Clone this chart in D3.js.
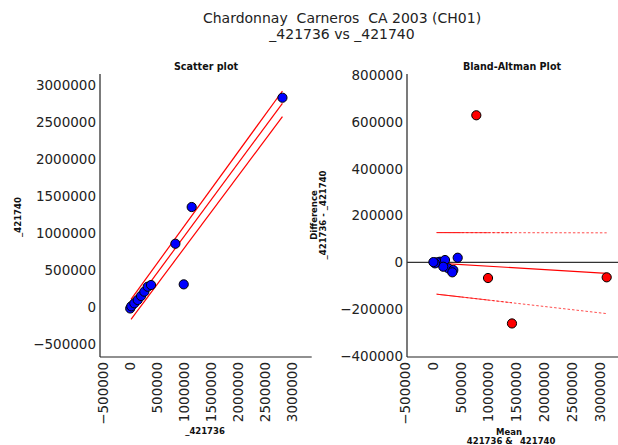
<!DOCTYPE html>
<html><head><meta charset="utf-8">
<script src="https://cdn.jsdelivr.net/npm/d3@7"></script>
<style>
body{margin:0;background:#fff;}
svg{display:block;font-family:"DejaVu Sans",sans-serif;}
text{white-space:pre;}
</style></head>
<body>
<script>
// ---- data ----
const titleLines = ["Chardonnay  Carneros  CA 2003 (CH01)", "_421736 vs _421740"];
const xTicks = [-500000, 0, 500000, 1000000, 1500000, 2000000, 2500000, 3000000];
const scatterYTicks = [-500000, 0, 500000, 1000000, 1500000, 2000000, 2500000, 3000000];
const baYTicks = [-400000, -200000, 0, 200000, 400000, 600000, 800000];

const scatterX = [0, 20000, 76000, 139000, 201000, 262000, 325000, 387000, 839000, 994000, 1142000, 2828000];
const scatterY = [-20000, 10000, 50000, 95000, 149000, 207000, 274000, 297000, 855000, 306000, 1351000, 2828000];

// regression line and its two bounds: [x0, y0, x1, y1]
const fitLine   = [15000, -17600, 2828000, 2752700];
const upperLine = [15000, 104000, 2828000, 2919000];
const lowerLine = [15000, -166000, 2828000, 2571600];

const baBlueMean = [446000, 128000, 69000, 218000, 277000, 367000, 349000, 187000, 38000, 10000];
const baBlueDiff = [19700, 2600, 0, 9800, -25600, -32900, -42700, -18800, -4300, 1000];
const baRedMean = [780000, 990000, 1420000, 3120000];
const baRedDiff = [628000, -67000, -261000, -64000];

const baTrend = [69000, -3000, 3120000, -47000];
const baUpper = [69000, 127000, 3120000, 126000];
const baLower = [69000, -136000, 3120000, -219000];
const baDashEnds = [500000, 1000000, 1420000, 3120000];

// ---- drawing ----
const W = 618, H = 445;
const svg = d3.select("body").append("svg").attr("width", W).attr("height", H);

svg.append("text").attr("x", 342).attr("y", 23).attr("text-anchor", "middle")
  .attr("font-size", 14).attr("fill", "#222").text(titleLines[0]);
svg.append("text").attr("x", 342).attr("y", 38.5).attr("text-anchor", "middle")
  .attr("font-size", 14).attr("fill", "#222").text(titleLines[1]);

const fmt = d => (d < 0 ? "\u2212" + Math.abs(d) : String(d));
const tickFont = 13.5;

function panel(opts) {
  const g = svg.append("g");
  const x = opts.x, y = opts.y;
  const [bx0, bx1] = opts.bx, [by0, by1] = opts.by;
  g.append("line").attr("x1", bx0).attr("x2", bx0).attr("y1", by0).attr("y2", by1)
    .attr("stroke", "#222").attr("stroke-width", 1.2);
  g.append("line").attr("x1", bx0).attr("x2", bx1).attr("y1", by1).attr("y2", by1)
    .attr("stroke", "#222").attr("stroke-width", 1.2);
  g.selectAll(".yt").data(opts.yTicks).join("text")
    .attr("x", bx0 - 4).attr("y", d => y(d)).attr("dy", "0.36em")
    .attr("text-anchor", "end").attr("font-size", tickFont).attr("fill", "#222").text(fmt);
  g.selectAll(".xt").data(xTicks).join("text")
    .attr("transform", d => `translate(${x(d)},${by1 + 5}) rotate(-90)`)
    .attr("dy", "0.36em").attr("text-anchor", "end")
    .attr("font-size", tickFont).attr("fill", "#222").text(fmt);
  g.append("text").attr("x", opts.titleX).attr("y", 70).attr("text-anchor", "middle")
    .attr("font-size", 9.6).attr("font-weight", "bold").attr("fill", "#111").text(opts.title);
  return g;
}

// Left: scatter plot
const xL = d3.scaleLinear().domain([-500000, 3000000]).range([103.3, 291.7]);
const yL = d3.scaleLinear().domain([-500000, 3000000]).range([344, 85]);
const gL = panel({x: xL, y: yL, bx: [100, 311.7], by: [74, 357], yTicks: scatterYTicks,
  title: "Scatter plot", titleX: 206});

[upperLine, fitLine, lowerLine].forEach(l => {
  gL.append("line").attr("x1", xL(l[0])).attr("y1", yL(l[1])).attr("x2", xL(l[2])).attr("y2", yL(l[3]))
    .attr("stroke", "#ff0000").attr("stroke-width", 1.2);
});
gL.selectAll(".pt").data(scatterX.map((v, i) => [v, scatterY[i]])).join("circle")
  .attr("cx", d => xL(d[0])).attr("cy", d => yL(d[1])).attr("r", 4.6)
  .attr("fill", "#0000ff").attr("stroke", "#000").attr("stroke-width", 1);

svg.append("text").attr("transform", "translate(21,217) rotate(-90)").attr("text-anchor", "middle")
  .attr("font-size", 8.5).attr("font-weight", "bold").attr("fill", "#111").text("_421740");
svg.append("text").attr("x", 205).attr("y", 434).attr("text-anchor", "middle")
  .attr("font-size", 8.5).attr("font-weight", "bold").attr("fill", "#111").text("_421736");

// Right: Bland-Altman
const xR = d3.scaleLinear().domain([-500000, 3000000]).range([405, 600]);
const yR = d3.scaleLinear().domain([-400000, 800000]).range([356, 75]);
const gR = panel({x: xR, y: yR, bx: [407, 618], by: [74, 357], yTicks: baYTicks,
  title: "Bland-Altman Plot", titleX: 512});

gR.append("line").attr("x1", 407).attr("x2", 618).attr("y1", yR(0)).attr("y2", yR(0))
  .attr("stroke", "#333").attr("stroke-width", 1.3);

[baUpper, baLower].forEach(l => {
  const slope = (l[3] - l[1]) / (l[2] - l[0]);
  baDashEnds.forEach((e, i) => {
    gR.append("line").attr("x1", xR(l[0])).attr("y1", yR(l[1]))
      .attr("x2", xR(e)).attr("y2", yR(l[1] + slope * (e - l[0])))
      .attr("stroke", "#ff0000").attr("stroke-width", 1)
      .attr("stroke-dasharray", "2.5,2").attr("stroke-dashoffset", i * 1.1)
      .attr("opacity", 0.7);
  });
});
gR.append("line").attr("x1", xR(baTrend[0])).attr("y1", yR(baTrend[1]))
  .attr("x2", xR(baTrend[2])).attr("y2", yR(baTrend[3]))
  .attr("stroke", "#ff0000").attr("stroke-width", 1.2);

gR.selectAll(".bp").data(baBlueMean.map((v, i) => [v, baBlueDiff[i]])).join("circle")
  .attr("cx", d => xR(d[0])).attr("cy", d => yR(d[1])).attr("r", 4.6)
  .attr("fill", "#0000ff").attr("stroke", "#000").attr("stroke-width", 1);
gR.selectAll(".rp").data(baRedMean.map((v, i) => [v, baRedDiff[i]])).join("circle")
  .attr("cx", d => xR(d[0])).attr("cy", d => yR(d[1])).attr("r", 4.6)
  .attr("fill", "#ff0000").attr("stroke", "#000").attr("stroke-width", 1);

svg.append("text").attr("transform", "translate(317,215) rotate(-90)").attr("text-anchor", "middle")
  .attr("font-size", 8.5).attr("font-weight", "bold").attr("fill", "#111").text("Difference");
svg.append("text").attr("transform", "translate(326,215) rotate(-90)").attr("text-anchor", "middle")
  .attr("font-size", 8.5).attr("font-weight", "bold").attr("fill", "#111").text("_421736 - _421740");
svg.append("text").attr("x", 509).attr("y", 435).attr("text-anchor", "middle")
  .attr("font-size", 8.5).attr("font-weight", "bold").attr("fill", "#111").text("Mean");
svg.append("text").attr("x", 509).attr("y", 444).attr("text-anchor", "middle")
  .attr("font-size", 8.5).attr("font-weight", "bold").attr("fill", "#111").text("_421736 & _421740");
</script>
</body></html>
